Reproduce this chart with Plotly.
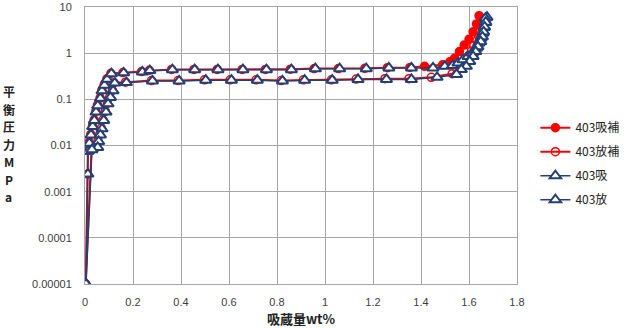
import plotly.graph_objects as go

# 403吸 (absorption)
abs_x = [0.004, 0.012, 0.013, 0.018, 0.025, 0.032, 0.039, 0.046, 0.053, 0.064, 0.071, 0.081, 0.092, 0.110,
         0.161, 0.239, 0.270, 0.364, 0.457, 0.554, 0.658, 0.756, 0.860, 0.960, 1.061, 1.172, 1.266, 1.360,
         1.450, 1.499, 1.531, 1.554, 1.575, 1.596, 1.614, 1.631, 1.640, 1.649, 1.657, 1.663, 1.669, 1.675]
abs_p = [1e-5, 0.0024, 0.0075, 0.0112, 0.0169, 0.0257, 0.035, 0.053, 0.073, 0.105, 0.153, 0.202, 0.271, 0.358,
         0.375, 0.393, 0.42, 0.44, 0.44, 0.44, 0.44, 0.44, 0.44, 0.46, 0.46, 0.46, 0.48, 0.48,
         0.48, 0.52, 0.54, 0.61, 0.72, 0.85, 1.0, 1.28, 1.65, 2.1, 2.7, 3.6, 4.6, 6.0]

# 403放 (desorption)
des_x = [1.668, 1.670, 1.665, 1.661, 1.656, 1.649, 1.637, 1.628, 1.617, 1.603, 1.589, 1.568, 1.548, 1.467,
         1.360, 1.256, 1.1375, 1.030, 0.915, 0.8225, 0.718, 0.610, 0.503, 0.392, 0.281, 0.1725, 0.124, 0.117,
         0.106, 0.096, 0.0875, 0.078, 0.071, 0.064, 0.057, 0.053, 0.029, 0.004]
des_p = [5.7, 4.7, 3.69, 2.89, 2.26, 1.77, 1.38, 1.08, 0.85, 0.664, 0.52, 0.442, 0.346, 0.30,
         0.27, 0.27, 0.27, 0.26, 0.26, 0.25, 0.26, 0.26, 0.26, 0.25, 0.25, 0.231, 0.225, 0.153,
         0.11, 0.080, 0.053, 0.035, 0.023, 0.0169, 0.0122, 0.0091, 0.0081, 1e-5]

# 403吸補
absc_x = [0.003, 0.011, 0.012, 0.017, 0.024, 0.031, 0.038, 0.045, 0.052, 0.063, 0.070, 0.080, 0.091, 0.108,
          0.158, 0.236, 0.268, 0.361, 0.454, 0.551, 0.655, 0.752, 0.856, 0.955, 1.056, 1.166, 1.260, 1.354,
          1.415, 1.490, 1.520, 1.540, 1.560, 1.580, 1.600, 1.617, 1.631, 1.642]
absc_p = [1e-5, 0.0024, 0.0078, 0.0118, 0.0175, 0.0265, 0.036, 0.055, 0.076, 0.108, 0.158, 0.208, 0.278, 0.365,
          0.38, 0.40, 0.425, 0.445, 0.445, 0.445, 0.445, 0.445, 0.45, 0.465, 0.465, 0.47, 0.485, 0.49,
          0.52, 0.56, 0.65, 0.78, 1.08, 1.5, 2.0, 2.9, 4.3, 6.5]

# 403放補
desc_x = [1.650, 1.655, 1.650, 1.645, 1.640, 1.632, 1.620, 1.610, 1.598, 1.584, 1.570, 1.550, 1.530, 1.443,
          1.350, 1.250, 1.130, 1.027, 0.910, 0.818, 0.713, 0.605, 0.498, 0.388, 0.277, 0.169, 0.121, 0.114,
          0.103, 0.093, 0.085, 0.075, 0.068, 0.061, 0.054, 0.050, 0.027, 0.003]
desc_p = [5.8, 4.8, 3.8, 3.0, 2.35, 1.85, 1.45, 1.12, 0.88, 0.69, 0.54, 0.45, 0.36, 0.30,
          0.28, 0.28, 0.275, 0.265, 0.265, 0.255, 0.265, 0.265, 0.265, 0.255, 0.255, 0.235, 0.23, 0.156,
          0.112, 0.082, 0.055, 0.036, 0.024, 0.0172, 0.0125, 0.0093, 0.0082, 1e-5]

x_ticks = [0, 0.2, 0.4, 0.6, 0.8, 1.0, 1.2, 1.4, 1.6, 1.8]
x_tick_text = ["0", "0.2", "0.4", "0.6", "0.8", "1", "1.2", "1.4", "1.6", "1.8"]
y_ticks = [0.00001, 0.0001, 0.001, 0.01, 0.1, 1, 10]
y_tick_text = ["0.00001", "0.0001", "0.001", "0.01", "0.1", "1", "10"]
y_title_chars = ["平", "衡", "圧", "力", "M", "P", "a"]

RED = "#ff0000"
BLUE = "#243f73"
GRID = "#a6a6a6"

fig = go.Figure()
fig.add_trace(go.Scatter(x=absc_x, y=absc_p, name="403吸補", mode="lines+markers",
                         line=dict(color=RED, width=2),
                         marker=dict(symbol="circle", size=8, color=RED, line=dict(color=RED, width=1.5)),
                         legendgroup="a"))
fig.add_trace(go.Scatter(x=desc_x, y=desc_p, name="403放補", mode="lines+markers",
                         line=dict(color=RED, width=2),
                         marker=dict(symbol="circle-open", size=8, color=RED, line=dict(color=RED, width=1.5)),
                         legendgroup="b"))
fig.add_trace(go.Scatter(x=abs_x, y=abs_p, name="403吸", mode="lines+markers",
                         line=dict(color=BLUE, width=1.5),
                         marker=dict(symbol="triangle-up", size=10, color="white", line=dict(color=BLUE, width=2)),
                         legendgroup="c"))
fig.add_trace(go.Scatter(x=des_x, y=des_p, name="403放", mode="lines+markers",
                         line=dict(color=BLUE, width=1.5),
                         marker=dict(symbol="triangle-up", size=10, color="white", line=dict(color=BLUE, width=2)),
                         legendgroup="d"))

tickfont = dict(family="Liberation Sans, Arial, sans-serif", size=11, color="#404040")

fig.update_layout(
    width=624, height=328,
    margin=dict(l=85, r=107, t=1, b=44),
    paper_bgcolor="white", plot_bgcolor="white",
    showlegend=True,
    legend=dict(xref="container", yref="container", x=0.858, y=0.655, xanchor="left", yanchor="top",
                font=dict(family="Noto Sans CJK JP", size=12, color="#222222"),
                tracegroupgap=5, traceorder="grouped", bgcolor="rgba(0,0,0,0)", itemwidth=30),
    xaxis=dict(range=[0, 1.8], tickvals=x_ticks, ticktext=x_tick_text, tickfont=tickfont,
               showgrid=True, gridcolor=GRID, gridwidth=1, zeroline=False,
               showline=True, linecolor=GRID, mirror=True,
               ticks="outside", ticklen=8, tickcolor="rgba(0,0,0,0)",
               title=dict(text="<b>吸蔵量wt%</b>", font=dict(family="Noto Sans CJK JP", size=13, color="#222222"),
                          standoff=8)),
    yaxis=dict(type="log", range=[-5, 1], tickvals=y_ticks, ticktext=y_tick_text, tickfont=tickfont,
               showgrid=True, gridcolor=GRID, gridwidth=1, zeroline=False,
               showline=True, linecolor=GRID, mirror=True, ticklabeloverflow="allow",
               ticks="outside", ticklen=10, tickcolor="rgba(0,0,0,0)"),
)

# stacked vertical y-axis title, one character per line
n = len(y_title_chars)
step = 17.5
for i, ch in enumerate(y_title_chars):
    fig.add_annotation(text="<b>%s</b>" % ch, xref="paper", yref="paper",
                       x=-0.176, y=0.505, xanchor="center", yanchor="middle", showarrow=False,
                       yshift=((n - 1) / 2 - i) * step, borderpad=0,
                       font=dict(family="Noto Sans CJK JP", size=12, color="#222222"))

fig.write_html("out.html")
